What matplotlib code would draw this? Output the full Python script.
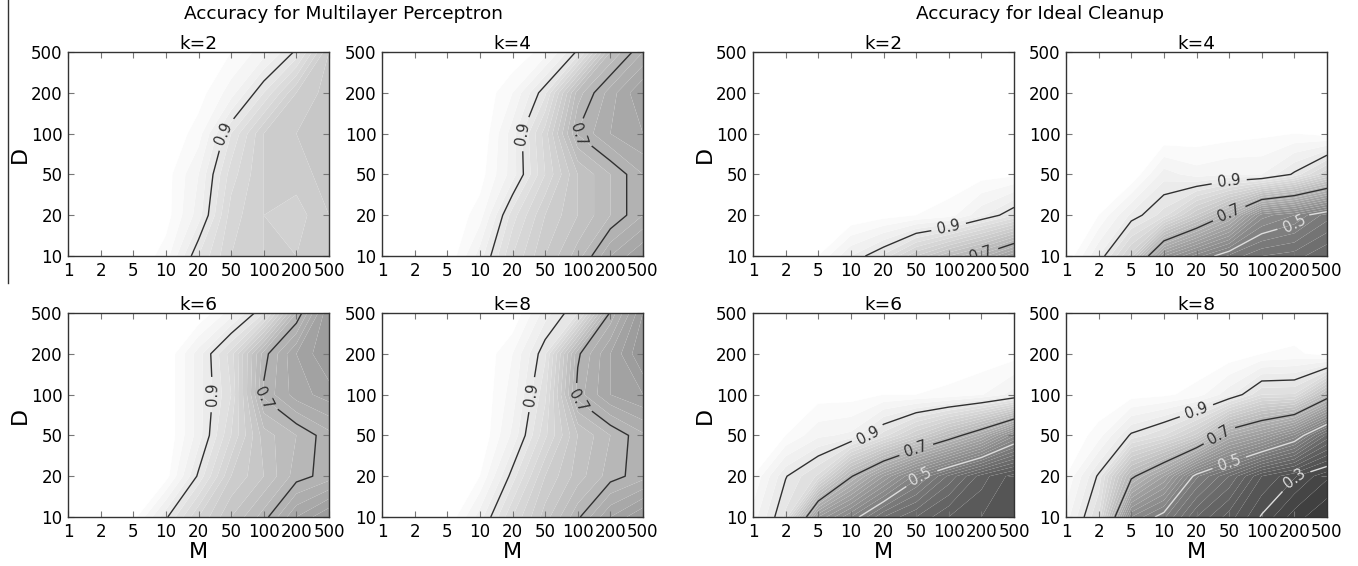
import numpy as np
import matplotlib
matplotlib.use('Agg')
import matplotlib.pyplot as plt
from matplotlib.colors import Normalize
from matplotlib.lines import Line2D

# ---- data -------------------------------------------------------------
M_labels = ['1', '2', '5', '10', '20', '50', '100', '200', '500']
D_labels = ['10', '20', '50', '100', '200', '500']
k_values = [2, 4, 6, 8]

# rows: D = 10, 20, 50, 100, 200, 500 ; columns: M = 1 ... 500
mlp_k2 = [
    [1, 1, 1, 0.97, 0.88, 0.82, 0.80, 0.80, 0.78],
    [1, 1, 1, 0.99, 0.93, 0.83, 0.80, 0.81, 0.78],
    [1, 1, 1, 0.99, 0.94, 0.85, 0.80, 0.79, 0.77],
    [1, 1, 1, 1.00, 0.97, 0.88, 0.80, 0.78, 0.76],
    [1, 1, 1, 1.00, 0.99, 0.95, 0.88, 0.80, 0.77],
    [1, 1, 1, 1.00, 1.00, 0.98, 0.95, 0.895, 0.78],
]
mlp_k4 = [
    [1, 1, 1, 0.93, 0.84, 0.78, 0.73, 0.66, 0.62],
    [1, 1, 1, 0.97, 0.87, 0.80, 0.76, 0.72, 0.68],
    [1, 1, 1, 0.99, 0.93, 0.84, 0.76, 0.72, 0.68],
    [1, 1, 1, 1.00, 0.93, 0.83, 0.698, 0.66, 0.64],
    [1, 1, 1, 1.00, 0.96, 0.885, 0.73, 0.67, 0.62],
    [1, 1, 1, 1.00, 1.00, 0.97, 0.895, 0.74, 0.68],
]
mlp_k6 = [
    [1, 1, 0.99, 0.905, 0.82, 0.76, 0.71, 0.64, 0.60],
    [1, 1, 1.00, 0.99, 0.895, 0.80, 0.76, 0.71, 0.69],
    [1, 1, 1.00, 1.00, 0.93, 0.84, 0.75, 0.72, 0.687],
    [1, 1, 1.00, 1.00, 0.93, 0.86, 0.695, 0.65, 0.63],
    [1, 1, 1.00, 1.00, 0.93, 0.85, 0.71, 0.64, 0.60],
    [1, 1, 1.00, 1.00, 1.00, 0.95, 0.88, 0.72, 0.60],
]
mlp_k8 = [
    [1, 1, 1, 0.93, 0.84, 0.77, 0.705, 0.64, 0.60],
    [1, 1, 1, 0.98, 0.89, 0.80, 0.75, 0.71, 0.688],
    [1, 1, 1, 1.00, 0.935, 0.845, 0.76, 0.72, 0.684],
    [1, 1, 1, 1.00, 0.95, 0.865, 0.69, 0.64, 0.62],
    [1, 1, 1, 1.00, 0.96, 0.884, 0.705, 0.64, 0.58],
    [1, 1, 1, 1.00, 1.00, 0.93, 0.88, 0.695, 0.60],
]
ideal_k2 = [
    [1, 1, 0.98, 0.92, 0.875, 0.80, 0.74, 0.69, 0.62],
    [1, 1, 1.00, 1.00, 0.99, 0.98, 0.97, 0.925, 0.88],
    [1, 1, 1.00, 1.00, 1.00, 1.00, 0.995, 0.99, 0.985],
    [1, 1, 1, 1, 1, 1, 1, 1, 1],
    [1, 1, 1, 1, 1, 1, 1, 1, 1],
    [1, 1, 1, 1, 1, 1, 1, 1, 1],
]
ideal_k4 = [
    [1, 0.92, 0.81, 0.60, 0.53, 0.475, 0.44, 0.43, 0.40],
    [1, 0.98, 0.915, 0.87, 0.78, 0.69, 0.55, 0.52, 0.47],
    [1, 1.00, 1.00, 0.93, 0.95, 0.94, 0.94, 0.895, 0.82],
    [1, 1.00, 1.00, 1.00, 0.995, 0.99, 0.985, 0.98, 0.99],
    [1, 1, 1, 1, 1, 1, 1, 1, 1],
    [1, 1, 1, 1, 1, 1, 1, 1, 1],
]
ideal_k6 = [
    [0.95, 0.875, 0.60, 0.52, 0.44, 0.40, 0.36, 0.34, 0.32],
    [0.98, 0.902, 0.856, 0.705, 0.60, 0.51, 0.435, 0.37, 0.33],
    [1.00, 0.98, 0.945, 0.935, 0.87, 0.80, 0.73, 0.654, 0.545],
    [1.00, 1.00, 0.99, 0.99, 0.98, 0.98, 0.975, 0.962, 0.931],
    [1.00, 1.00, 1.00, 1.00, 1.00, 1.00, 0.995, 0.995, 0.99],
    [1, 1, 1, 1, 1, 1, 1, 1, 1],
]
ideal_k8 = [
    [0.95, 0.86, 0.54, 0.485, 0.40, 0.35, 0.297, 0.25, 0.22],
    [0.98, 0.895, 0.712, 0.62, 0.485, 0.42, 0.34, 0.303, 0.264],
    [1.00, 0.97, 0.895, 0.86, 0.793, 0.66, 0.608, 0.535, 0.414],
    [1.00, 1.00, 0.99, 0.985, 0.971, 0.927, 0.86, 0.858, 0.731],
    [1.00, 1.00, 1.00, 1.00, 1.00, 0.995, 0.98, 0.975, 0.99],
    [1, 1, 1, 1, 1, 1, 1, 1, 1],
]

group_titles = ['Accuracy for Multilayer Perceptron', 'Accuracy for Ideal Cleanup']
mlp_data = [mlp_k2, mlp_k4, mlp_k6, mlp_k8]
ideal_data = [ideal_k2, ideal_k4, ideal_k6, ideal_k8]

line_levels = [0.3, 0.5, 0.7, 0.9]
line_colors = ['#dcdcdc', '#dcdcdc', '#303030', '#303030']
fill_levels = np.linspace(0.0, 1.0, 51)

# ---- figure -----------------------------------------------------------
W, H = 1358, 566
plt.rcParams['font.family'] = ['DejaVu Sans']
fig = plt.figure(figsize=(W / 100, H / 100), dpi=100)

col_x = [68, 382, 753, 1066]
row_y = [(52, 256), (313, 517)]
ax_w = 261

xi = np.arange(len(M_labels))
yi = np.arange(len(D_labels))
X, Y = np.meshgrid(xi, yi)

def make_panel(px, py, data, k, show_ylabel, show_xlabel):
    top, bot = py
    ax = fig.add_axes([px / W, 1 - bot / H, ax_w / W, (bot - top) / H])
    Z = np.array(data, dtype=float)
    ax.contourf(X, Y, Z, levels=fill_levels, cmap='gray',
                norm=Normalize(0.0, 0.99), antialiased=True)
    cs = ax.contour(X, Y, Z, levels=line_levels, colors=line_colors,
                    linewidths=1.0)
    ax.clabel(cs, fmt='%.1f', fontsize=10.5, inline=True, inline_spacing=6)
    ax.set_xlim(0, len(M_labels) - 1)
    ax.set_ylim(0, len(D_labels) - 1)
    ax.set_xticks(xi)
    ax.set_xticklabels(M_labels)
    ax.set_yticks(yi)
    ax.set_yticklabels(D_labels)
    ax.tick_params(direction='in', top=True, right=True, length=4,
                   width=0.8, color='#777777', labelsize=12, pad=4)
    for s in ax.spines.values():
        s.set_color('#333333')
        s.set_linewidth(1.0)
    ax.set_title('k=%d' % k, fontsize=13.3, pad=2)
    if show_ylabel:
        ax.set_ylabel('D', fontsize=16, labelpad=1)
    if show_xlabel:
        ax.set_xlabel('M', fontsize=16, labelpad=1)
    return ax

for g, datasets in enumerate([mlp_data, ideal_data]):
    for idx, (data, k) in enumerate(zip(datasets, k_values)):
        r, c = divmod(idx, 2)
        make_panel(col_x[2 * g + c], row_y[r], data, k,
                   show_ylabel=(c == 0), show_xlabel=(r == 1))

fig.text(344 / W, 1 - 14 / H, group_titles[0], ha='center', va='center', fontsize=13.3)
fig.text(1040 / W, 1 - 14 / H, group_titles[1], ha='center', va='center', fontsize=13.3)

# thin border line at far left of the original picture
fig.add_artist(Line2D([8 / W, 8 / W], [1.0, 1 - 283 / H], color='#333333', lw=1.0))

fig.savefig('out.png', dpi=100)
